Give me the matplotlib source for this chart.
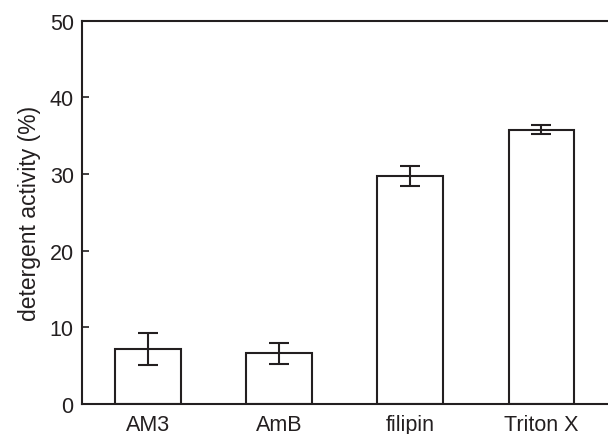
import matplotlib
matplotlib.use("Agg")
import matplotlib.pyplot as plt

categories = ['AM3', 'AmB', 'filipin', 'Triton X']
activity = [7.2, 6.6, 29.7, 35.8]
errors = [2.1, 1.4, 1.3, 0.55]
y_ticks = [0, 10, 20, 30, 40, 50]

plt.rcParams['font.family'] = ['Liberation Sans', 'DejaVu Sans']
ink = '#231f20'

fig = plt.figure(figsize=(6.08, 4.35), dpi=100)
ax = fig.add_axes([0.135, 0.069, 0.87, 0.881])

x = list(range(len(categories)))
ax.bar(x, activity, width=0.5, color='white', edgecolor=ink, linewidth=1.5,
       yerr=errors, capsize=7,
       error_kw={'ecolor': ink, 'elinewidth': 1.5, 'capthick': 1.5})

ax.set_xlim(-0.5, 3.53)
ax.set_ylim(0, 50)
ax.set_yticks(y_ticks)
ax.set_xticks(x)
ax.set_xticklabels(categories)
ax.tick_params(axis='x', length=0, pad=7, labelsize=15.5, colors=ink)
ax.tick_params(axis='y', direction='in', length=5, width=1.2, pad=6,
               labelsize=15.5, colors=ink)
for s in ax.spines.values():
    s.set_color(ink)
    s.set_linewidth(1.5)
ax.spines['right'].set_visible(False)

ax.set_ylabel('detergent activity (%)', fontsize=16.5, color=ink, labelpad=6)

fig.savefig('out.png', dpi=100)
